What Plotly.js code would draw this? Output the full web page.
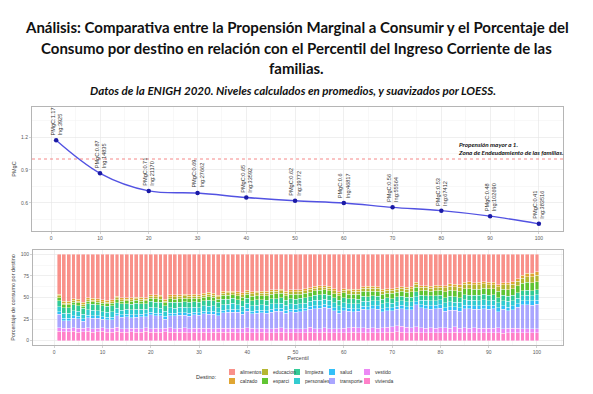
<!DOCTYPE html>
<html><head><meta charset="utf-8">
<script src="https://cdn.plot.ly/plotly-3.0.1.min.js"></script>
<style>html,body{margin:0;padding:0;background:#fff}#chart{width:593px;height:394px}</style>
</head><body><div id="chart"></div>
<script>
// ---------- DATA ----------
const percentil = [1,2,3,4,5,6,7,8,9,10,11,12,13,14,15,16,17,18,19,20,21,22,23,24,25,26,27,28,29,30,31,32,33,34,35,36,37,38,39,40,41,42,43,44,45,46,47,48,49,50,51,52,53,54,55,56,57,58,59,60,61,62,63,64,65,66,67,68,69,70,71,72,73,74,75,76,77,78,79,80,81,82,83,84,85,86,87,88,89,90,91,92,93,94,95,96,97,98,99,100];

const categorias = ["alimentos","calzado","educacion","esparci","limpieza","personales","salud","transporte","vestido","vivienda"];
const colores = ["#F8766D","#D89000","#A3A500","#39B600","#00BF7D","#00BFC4","#00B0F6","#9590FF","#E76BF3","#FF62BC"];

const alimentos = [47,54,54,52,52,55,51,51,51,53, 53,53,49,50,50,50,50,50,50,47, 47,47,51,47,46.5,47,46,47.5,46.5,47, 45,44.5,45,47,43,42.5,43,43.5,45,42, 43,42.5,43,43,41,41,40.5,43,41,41, 41,40,39,37,36.5,37,37,40,43,40, 40,40.5,40,37,37,36.5,37,40,40,40.5, 39,38,38,38,33,36,36,37,36,36, 36,34,35,35,32.5,32,33,32.5,32,32.5, 32.5,35,33,33,32,28,24,22,22,20];
const calzado = [2,2,2,2,2,2.5,2,2,2,2, 2,2,2,2.5,2,2,2,2,2,2, 2,2,2,2,2.5,2,2,2,2,2, 2,2,2,2,2,2,2,2.5,2,2, 2,2,2,2,2,2,2,2,2.5,2, 2,2,2,2,2,2,2,2,2,2, 2,2,2,2,2,2.5,2,2,2,2, 2,2,2,2,2,2,2,2,2.5,2, 2.5,2.5,2.5,2.5,2.5,3,2.5,2.5,2.5,2.5, 2.5,2.5,2.5,2.5,2.5,3,3.5,4,4,4.5];
const educacion = [2.5,2,2,2,2,2,2,2,2,2, 2,2,2.5,2,2,2,2,2.5,2,2, 2.5,2.5,2,2.5,2.5,2.5,3,2.5,2.5,2.5, 2.5,3,2.5,2.5,2.5,3,2.5,2.5,3,2.5, 3,3,3,3,3.5,3,3,3,3,3, 3,3,3.5,3,3,3,3,3.5,3,3, 3.5,3.5,3.5,3.5,4,3.5,3.5,3.5,3.5,3.5, 3.5,3.5,3.5,4,3.5,3.5,3.5,3.5,3.5,3.5, 4.5,5,5,5,5,5,5,5.5,5,5, 5,5,5,5.5,5.5,5.5,6,6.5,7,7];
const esparci = [3.5,3,3,3,3,2.5,3,3,3,3, 3,3,3.5,3,3,3,3.5,3,3,3.5, 4,4,3.5,4,4,4,4,4.5,4,4, 4,4.5,4,4,4.5,4.5,4,4.5,4.5,4.5, 5,5,4.5,5,5,5.5,5,5,5,5.5, 5,5.5,5,5,5.5,5,5,5,5,5.5, 5.5,5.5,5.5,5.5,6,5.5,5.5,5.5,5.5,6, 5.5,5.5,5.5,6,5.5,5.5,6,5.5,6,5.5, 6.5,7,7,7,7,7.5,7,7,7,7.5, 7,7.5,7,7.5,7.5,8,8.5,9,9,9.5];
const limpieza = [7,6.5,6.5,7,6.5,6.5,7,7,6.5,7, 6.5,7,6.5,7,6.5,6.5,7,6.5,6.5,7, 6.5,6.5,6,6.5,6.5,6,6.5,6.5,6,6.5, 6,6.5,6,6,6.5,6,6,6,6.5,6, 6,6,6,6,6,6,6.5,6,6,6, 6,6,5.5,6,6,6,6,5.5,6,6, 5.5,5.5,5.5,6,5.5,5.5,5.5,5.5,5.5,5.5, 5.5,5.5,5.5,5.5,6,5.5,5.5,5.5,5.5,5.5, 6,6,6,5.5,6,6,6,6,6.5,6, 6,6,6,6,6,6.5,6,6,6,6];
const personales = [6,6,5.5,6,6,5.5,6,6,6,5.5, 6,6,6,5.5,6,6,6,6,5.5,6, 6,6,6,6,6,6.5,6,6,6,6, 6,6.5,6,6,6,6,6.5,6,6,6, 6,6,6,6.5,6,6,6,6,6.5,6, 6,6,6,6,6.5,6,6,6,6,6, 5.5,6,5.5,5.5,6,5.5,5.5,5.5,6,5.5, 5.5,5.5,5.5,6,5.5,5.5,5.5,6,5.5,5.5, 6,6,5.5,6,6,6,6.5,6,6,6, 6,6,6,6.5,6,6,6,6,6,6];
const salud = [3,2.5,3,3,2.5,3,3,3,2.5,3, 3,3,2.5,3,3,3,3,2.5,3,3, 3,3,3,3,3,3,3,3.5,3,3, 3,3,3.5,3,3,3,3.5,3,3,3, 3,3.5,3,3,3.5,3,3,3.5,3,3, 3.5,3,3,3.5,3,3.5,3,3.5,3,3.5, 3.5,3.5,3,3.5,3.5,3.5,4,3.5,3.5,3.5, 3.5,4,3.5,3.5,4,3.5,4,3.5,4,4, 4,4,4,4,4.5,4,4,4,4.5,4, 4,4.5,4,4.5,4.5,4.5,4.5,5,5,5];
const transporte = [16,9,9,11,11,8,12,12,12,10, 10,10,14,13,13.5,12.5,13,14,13,16, 14.5,14.5,10.5,14,14.5,15,14.5,15,15.5,15, 16.5,16.5,16.5,14.5,18,18.5,19,18.5,16.5,19.5, 17,17.5,18,17.5,19,19.5,19.5,17.5,19.5,19, 19.5,20.5,21.5,23,23.5,24,23.5,20.5,17.5,20.5, 18.5,18,19,21,21.5,22,21.5,18.5,19,18.5, 19.5,20.5,20,21,25.5,22.5,22.5,21.5,22.5,22.5, 18.5,20.5,19.5,19.5,22,22.5,21.5,22,22.5,22, 22.5,18.5,22.5,20,21.5,24,27.5,27.5,27,28];
const vestido = [4,4,4,4,4.5,4,4,4,4,4, 4,4.5,4.5,4,4,4,4.5,4,4,4, 4.5,4.5,4,5,4.5,4.5,5,4.5,4.5,5, 4.5,5,4.5,4.5,5,5,4.5,5,5,5, 5,5,4.5,5,5,5.5,5,5,5,5, 5,5,5.5,5,5,5.5,5,5,5,5.5, 6,5.5,5.5,6,5.5,6,5.5,5.5,6,6.5, 7,7,6.5,6,6.5,6,5.5,6,5.5,6, 6,5.5,6,5.5,6,5.5,6,5.5,5.5,5.5, 5.5,6,5.5,5.5,5.5,5.5,5,5,5,5];
const vivienda = [11,10,10,11,10,10,11,10,10,11, 10,10,11,10,10,10,10,10,11,10, 10,9.5,10,10,9.5,10,10,9.5,10,9.5, 10,9.5,9.5,10,9.5,9.5,10,9.5,9.5,10, 9,9,10,9,9,9,10,9,9,9, 9,9,10,9,9,10,9,9,9,9, 9,10,9,9,9,9,9,9,10,10, 10.5,10,9,9,10,9,9,9,9,9, 9,9,10,9,9,9,9,9,9,9, 9,9,8.5,9,9,9,9,9,9,9];
const series = {alimentos, calzado, educacion, esparci, limpieza, personales, salud, transporte, vestido, vivienda};

const muestras = [1,10,20,30,40,50,60,70,80,90,100];
const pmgc = [1.17,0.87,0.71,0.69,0.65,0.62,0.60,0.56,0.53,0.48,0.41];
const ingreso = [3925,14835,21170,27662,33592,39772,46817,55564,67412,102690,383516];

const titulo = ["Análisis: Comparativa entre la Propensión Marginal a Consumir y el Porcentaje del",
  "Consumo por destino en relación con el Percentil del Ingreso Corriente de las",
  "familias."];
const subtitulo = "Datos de la ENIGH 2020. Niveles calculados en promedios, y suavizados por LOESS.";
const notaTexto = ["Propensión mayor a 1.", "Zona de Endeudamiento de las familias."];

// ---------- PLOT ----------
const W = 593, H = 394;
const px = v => v / W, py = v => 1 - v / H;
const FONT = "Liberation Sans";

const traces = [];
traces.push({
  type: "scatter", mode: "lines+markers", x: muestras, y: pmgc,
  xaxis: "x", yaxis: "y", hoverinfo: "skip",
  line: {color: "#5252e2", width: 1.4, shape: "spline", smoothing: 1},
  marker: {color: "#1a1aa6", size: 4.5}
});
for (let i = categorias.length - 1; i >= 0; i--) {
  traces.push({
    type: "bar", x: percentil, y: series[categorias[i]], name: categorias[i],
    xaxis: "x2", yaxis: "y2", opacity: 0.8,
    marker: {color: colores[i], line: {color: "#ffffff", width: 0.4}}
  });
}

const axBase = {
  showline: true, mirror: true, linecolor: "#b5b5b5", linewidth: 1,
  gridcolor: "#e4e4e4", gridwidth: 0.6, zeroline: false,
  ticks: "outside", ticklen: 2, tickcolor: "#b5b5b5", tickwidth: 0.6,
  tickfont: {family: FONT, size: 5, color: "#5a5a5a"}, automargin: false
};

const annotations = [];
titulo.forEach((t, i) => annotations.push({
  xref: "paper", yref: "paper", x: px(296.5), y: py([27, 48, 68][i]),
  text: "<b>" + t + "</b>", showarrow: false, xanchor: "center", yanchor: "middle",
  font: {family: "Lato", size: 15, color: "#111"}
}));
annotations.push({
  xref: "paper", yref: "paper", x: px(292.5), y: py(90),
  text: "<b><i>" + subtitulo + "</i></b>", showarrow: false, xanchor: "center", yanchor: "middle",
  font: {family: "Lato", size: 11.6, color: "#111"}
});
muestras.forEach((m, i) => annotations.push({
  xref: "x", yref: "y", x: m, y: pmgc[i], showarrow: false,
  text: "PMgC:" + pmgc[i].toFixed(2).replace(/0$/, "") + "<br>Ing:" + ingreso[i],
  textangle: -90, xanchor: "center", yanchor: "bottom", yshift: 3, align: "left",
  font: {family: FONT, size: 5.6, color: "#333"}
}));
annotations.push({
  xref: "x", yref: "y", x: 83, y: 1.0, yshift: 1, showarrow: false,
  text: "<b><i>" + notaTexto.join("<br>") + "</i></b>", align: "left",
  xanchor: "left", yanchor: "bottom", font: {family: "Lato", size: 6.3, color: "#111"}
});
// legend (built from the category arrays)
annotations.push({
  xref: "paper", yref: "paper", x: px(219), y: py(376.5), text: "Destino:",
  showarrow: false, xanchor: "right", yanchor: "middle",
  font: {family: FONT, size: 5.5, color: "#333"}
});
const colX = [229, 262, 294, 329, 364], rowY = [372, 381];
const shapes = [{
  type: "line", xref: "x domain", yref: "y", x0: 0, x1: 1, y0: 1, y1: 1,
  line: {color: "#f26a6a", width: 0.8, dash: "dot"}
}];
categorias.forEach((c, i) => {
  const cx = colX[Math.floor(i / 2)], cy = rowY[i % 2];
  shapes.push({
    type: "rect", xref: "paper", yref: "paper",
    x0: px(cx), x1: px(cx + 6), y0: py(cy + 3), y1: py(cy - 3),
    fillcolor: colores[i], opacity: 0.8, line: {width: 0}
  });
  annotations.push({
    xref: "paper", yref: "paper", x: px(cx + 9), y: py(cy), text: c,
    showarrow: false, xanchor: "left", yanchor: "middle",
    font: {family: FONT, size: 5, color: "#333"}
  });
});

const layout = {
  width: W, height: H, margin: {l: 0, r: 0, t: 0, b: 0},
  paper_bgcolor: "#fff", plot_bgcolor: "#fff", showlegend: false,
  barmode: "stack", barnorm: "percent", bargap: 0.2,
  font: {family: FONT},
  xaxis: Object.assign({}, axBase, {
    domain: [px(32), px(563)], anchor: "y", range: [-3.95, 104.95],
    tick0: 0, dtick: 10, minor: {dtick: 5, showgrid: true, gridcolor: "#f1f1f1", gridwidth: 0.5}
  }),
  yaxis: Object.assign({}, axBase, {
    domain: [py(231), py(107)], anchor: "x", range: [0.345, 1.473],
    tick0: 0.6, dtick: 0.3, tickformat: ".1f",
    minor: {dtick: 0.15, showgrid: true, gridcolor: "#f1f1f1", gridwidth: 0.5},
    title: {text: "PMgC", font: {family: FONT, size: 5.5, color: "#444"}, standoff: 4}
  }),
  xaxis2: Object.assign({}, axBase, {
    domain: [px(33), px(563)], anchor: "y2", range: [-4.4, 105.4],
    tick0: 0, dtick: 10, minor: {dtick: 5, showgrid: true, gridcolor: "#f1f1f1", gridwidth: 0.5},
    title: {text: "Percentil", font: {family: FONT, size: 5.5, color: "#444"}, standoff: 2}
  }),
  yaxis2: Object.assign({}, axBase, {
    domain: [py(345), py(250)], anchor: "x2", range: [-5, 105],
    tick0: 0, dtick: 25,
    minor: {dtick: 12.5, showgrid: true, gridcolor: "#f1f1f1", gridwidth: 0.5},
    title: {text: "Porcentaje de consumo por destino", font: {family: FONT, size: 5.5, color: "#444"}, standoff: 4}
  }),
  annotations, shapes
};

Plotly.newPlot("chart", traces, layout, {displayModeBar: false, staticPlot: true});
</script></body></html>
